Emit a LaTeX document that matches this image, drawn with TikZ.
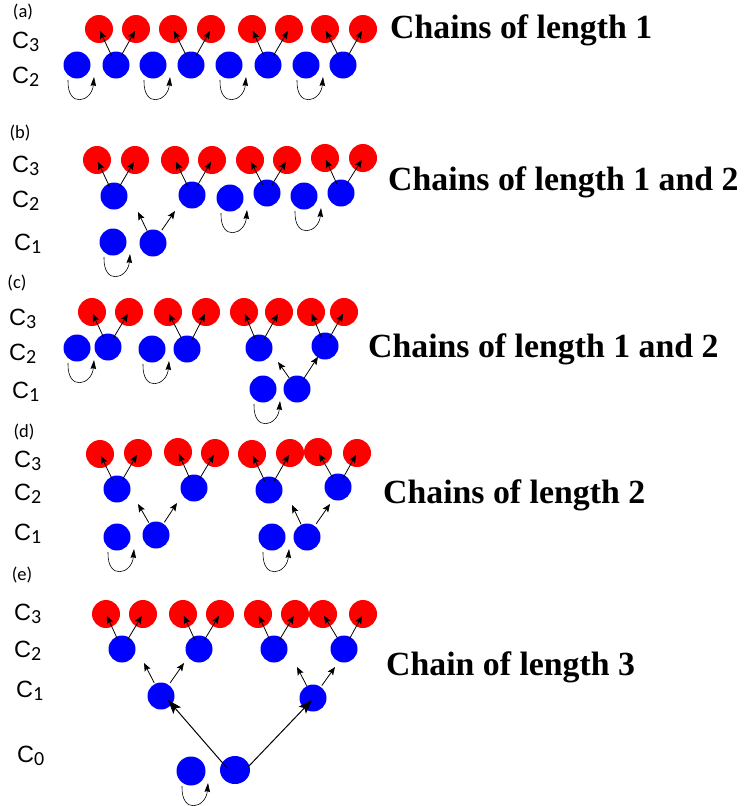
\documentclass[tikz,border=0pt]{standalone}
\usepackage{fontspec}
\setmainfont{Liberation Serif}
\newfontfamily\labfont{Carlito}
\newfontfamily\cfont{Liberation Sans}
\usetikzlibrary{arrows.meta,calc,shapes.geometric}
\tikzset{
  rd/.style={circle,fill={rgb,255:red,255;green,0;blue,0},inner sep=0pt,minimum size=28pt},
  bl/.style={circle,fill={rgb,255:red,0;green,0;blue,255},inner sep=0pt,minimum size=27pt},
  bigbl/.style={bl,minimum size=29pt},
  ar/.style={-{Stealth[length=8pt,width=6.5pt,inset=1.5pt]},line width=0.8pt},
  bigar/.style={-{Stealth[length=14pt,width=10pt,inset=3pt]},line width=1pt},
  lp/.style={-{Stealth[length=9pt,width=5.5pt,inset=1pt]},line width=0.6pt},
  ttl/.style={anchor=base west,inner sep=0pt,font=\fontsize{33.8}{36}\selectfont\bfseries},
  clab/.style={anchor=base west,inner sep=0pt,font=\cfont\fontsize{23.5}{26}\selectfont},
  plab/.style={inner sep=0pt,font=\labfont\fontsize{18.5}{20}\selectfont}
}
\newcommand\cc[1]{C\raisebox{-0.32ex}{\labfont\fontsize{20}{21}\selectfont #1}}
\newcommand\upar[2]{\draw[ar] ($(#1)!0.25!(#2)$) -- ($(#1)!0.95!(#2)$);}
\newcommand\selfloop[1]{\draw[lp] ([shift={(-9,15)}]#1.center) .. controls +(-1,29) and +(-2,25) .. ([shift={(17,12)}]#1.center);}
\begin{document}
\begin{tikzpicture}[x=1pt,y=-1pt]
\useasboundingbox[fill=white] (0,0) rectangle (745,806);

% ---------- (a)
\node[plab] (la) at (23,12) {(a)};
\node[clab] (la3) at (12,48) {\cc{3}};
\node[clab] (la2) at (12,83) {\cc{2}};
\foreach \x [count=\i] in {99,136,173,211,252,289,325,363} \node[rd] (ar\i) at (\x,29) {};
\foreach \x [count=\i] in {77,116,153,191,229,268,306,343} \node[bl] (ab\i) at (\x,65) {};
\upar{ab2}{ar1}\upar{ab2}{ar2}
\upar{ab4}{ar3}\upar{ab4}{ar4}
\upar{ab6}{ar5}\upar{ab6}{ar6}
\upar{ab8}{ar7}\upar{ab8}{ar8}
\selfloop{ab1}\selfloop{ab3}\selfloop{ab5}\selfloop{ab7}
\node[ttl] (ta) at (390,38) {Chains of length 1};

% ---------- (b)
\node[plab] (lb) at (20,133) {(b)};
\node[clab] (lb3) at (12,172) {\cc{3}};
\node[clab] (lb2) at (12,207) {\cc{2}};
\node[clab] (lb1) at (14,250) {\cc{1}};
\foreach \x/\y [count=\i] in {97/160,135/160,175/160,212/160,250/160,287/160,325/158,363/158} \node[rd] (br\i) at (\x,\y) {};
\foreach \x/\y [count=\i] in {114/196,192/195,230/198,267/193,304/196,341/193} \node[bl] (bb\i) at (\x,\y) {};
\node[bl] (bc1) at (113,242) {};
\node[bl] (bc2) at (153,243) {};
\upar{bb1}{br1}\upar{bb1}{br2}
\upar{bb2}{br3}\upar{bb2}{br4}
\upar{bb4}{br5}\upar{bb4}{br6}
\upar{bb6}{br7}\upar{bb6}{br8}
\coordinate (bf1) at (138,212);
\coordinate (bf2) at (175,211);
\draw[ar] ($(bc2)!0.4!(bf1)$) -- (bf1);
\draw[ar] ($(bc2)!0.4!(bf2)$) -- (bf2);
\selfloop{bb3}\selfloop{bb5}\selfloop{bc1}
\node[ttl] (tb) at (388,190) {Chains of length 1 and 2};

% ---------- (c)
\node[plab] (lc) at (17,283) {(c)};
\node[clab] (lc3) at (9,325) {\cc{3}};
\node[clab] (lc2) at (9,360) {\cc{2}};
\node[clab] (lc1) at (12,398) {\cc{1}};
\foreach \x [count=\i] in {92,129,168,206,244,279,311,344} \node[rd] (cr\i) at (\x,312) {};
\foreach \x/\y [count=\i] in {77/348,108/347,152/349,187/349,259/348,325/346} \node[bl] (cb\i) at (\x,\y) {};
\node[bl] (cc1) at (263,389) {};
\node[bl] (cc2) at (297,389) {};
\upar{cb2}{cr1}\upar{cb2}{cr2}
\upar{cb4}{cr3}\upar{cb4}{cr4}
\upar{cb5}{cr5}\upar{cb5}{cr6}
\upar{cb6}{cr7}\upar{cb6}{cr8}
\coordinate (cf1) at (278,362);
\draw[ar] ($(cc2)!0.4!(cf1)$) -- (cf1);
\draw[ar] ($(cc2)!0.22!(cb6)$) -- ($(cc2)!0.75!(cb6)$);
\selfloop{cb1}\selfloop{cb3}\selfloop{cc1}
\node[ttl] (tc) at (368,357) {Chains of length 1 and 2};

% ---------- (d)
\node[plab] (ld) at (24,432) {(d)};
\node[clab] (ld3) at (14,467) {\cc{3}};
\node[clab] (ld2) at (14,500) {\cc{2}};
\node[clab] (ld1) at (14,540) {\cc{1}};
\foreach \x/\y [count=\i] in {100/454,138/453,178/452,215/453,252/454,290/453,318/452,357/453} \node[rd] (dr\i) at (\x,\y) {};
\foreach \x/\y [count=\i] in {117/489,194/488,269/490,338/487} \node[bl] (db\i) at (\x,\y) {};
\foreach \x/\y [count=\i] in {117/537,156/535,272/537,307/537} \node[bl] (dc\i) at (\x,\y) {};
\upar{db1}{dr1}\upar{db1}{dr2}
\upar{db2}{dr3}\upar{db2}{dr4}
\upar{db3}{dr5}\upar{db3}{dr6}
\upar{db4}{dr7}\upar{db4}{dr8}
\coordinate (df1) at (138,504);
\coordinate (df2) at (177,503);
\coordinate (df3) at (292,505);
\coordinate (df4) at (330,504);
\draw[ar] ($(dc2)!0.4!(df1)$) -- (df1);
\draw[ar] ($(dc2)!0.4!(df2)$) -- (df2);
\draw[ar] ($(dc4)!0.4!(df3)$) -- (df3);
\draw[ar] ($(dc4)!0.4!(df4)$) -- (df4);
\selfloop{dc1}\selfloop{dc3}
\node[ttl] (td) at (383,503) {Chains of length 2};

% ---------- (e)
\node[plab] (le) at (22,575) {(e)};
\node[clab] (le3) at (14,620) {\cc{3}};
\node[clab] (le2) at (14,657) {\cc{2}};
\node[clab] (le1) at (16,697) {\cc{1}};
\node[clab] (le0) at (17,762) {\cc{0}};
\foreach \x [count=\i] in {106,143,183,220,258,295,323,363} \node[rd] (er\i) at (\x,614) {};
\foreach \x [count=\i] in {122,199,274,344} \node[bl] (eb\i) at (\x,649) {};
\node[bl] (ec1) at (161,696) {};
\node[bl] (ec2) at (313,698) {};
\node[bigbl] (ez1) at (191,771) {};
\node[ellipse,fill={rgb,255:red,0;green,0;blue,255},inner sep=0pt,minimum height=28pt,minimum width=30pt] (ez2) at (235,770) {};
\upar{eb1}{er1}\upar{eb1}{er2}
\upar{eb2}{er3}\upar{eb2}{er4}
\upar{eb3}{er5}\upar{eb3}{er6}
\upar{eb4}{er7}\upar{eb4}{er8}
\coordinate (ef1) at (144,663);
\coordinate (ef2) at (184,663);
\coordinate (ef3) at (297,667);
\coordinate (ef4) at (335,667);
\draw[ar] ($(ec1)!0.4!(ef1)$) -- (ef1);
\draw[ar] ($(ec1)!0.4!(ef2)$) -- (ef2);
\draw[ar] ($(ec2)!0.4!(ef3)$) -- (ef3);
\draw[ar] ($(ec2)!0.4!(ef4)$) -- (ef4);
\draw[bigar] ([shift={(-8,-2)}]ez2.center) -- ([shift={(7,4)}]ec1.center);
\draw[bigar] ([shift={(13,-3)}]ez2.center) -- ([shift={(-1,2)}]ec2.center);
\selfloop{ez1}
\node[ttl] (te) at (386,675) {Chain of length 3};
\end{tikzpicture}
\end{document}
